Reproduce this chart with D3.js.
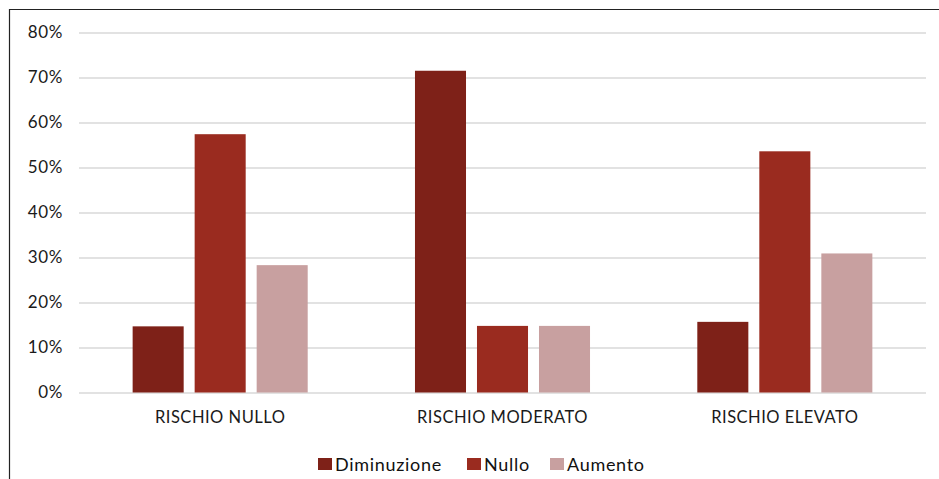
<!DOCTYPE html>
<html>
<head>
<meta charset="utf-8">
<script src="https://cdn.jsdelivr.net/npm/d3@7"></script>
<style>
  body { margin: 0; background: #fff; }
  svg { display: block; font-family: Lato, "Open Sans", sans-serif; }
</style>
</head>
<body>
<div id="content"></div>
<script>
// Data.
var categories = ['RISCHIO NULLO', 'RISCHIO MODERATO', 'RISCHIO ELEVATO'];
var seriesNames = ['Diminuzione', 'Nullo', 'Aumento'];
var diminuzione = [14.7, 71.5, 15.7];
var nullo = [57.4, 14.8, 53.6];
var aumento = [28.3, 14.8, 30.9];
var yTicks = [0, 10, 20, 30, 40, 50, 60, 70, 80];
var colors = ['#7e2118', '#9a2b1f', '#c8a0a0'];

var seriesValues = [diminuzione, nullo, aumento];
var data = categories.map(function(c, i) {
  return {
    category: c,
    values: seriesNames.map(function(s, j) { return {key: s, value: seriesValues[j][i]}; })
  };
});

var W = 939, H = 479;
var svg = d3.select('#content').append('svg').attr('width', W).attr('height', H);

// Frame (only top and left edges visible).
svg.append('path')
    .attr('d', 'M9.5,' + H + 'V9.5H' + W)
    .attr('fill', 'none')
    .attr('stroke', '#222')
    .attr('stroke-width', 1.2);

var plot = {left: 79, right: 926, top: 32.5, bottom: 392.5};

var y = d3.scaleLinear().domain([0, 80]).range([plot.bottom, plot.top]);
var x0 = d3.scaleBand().domain(categories).range([plot.left, plot.right]).padding(0);
var x1 = d3.scaleBand().domain(seriesNames).range([0, x0.bandwidth()])
    .paddingInner(0.177).paddingOuter(0.865);
var color = d3.scaleOrdinal().domain(seriesNames).range(colors);

// Gridlines and y labels.
var yAxis = d3.axisLeft(y).tickValues(yTicks).tickSize(-(plot.right - plot.left))
    .tickFormat(function(d) { return d + '%'; }).tickPadding(16);
var ga = svg.append('g').attr('transform', 'translate(' + plot.left + ',0)').call(yAxis);
ga.select('.domain').remove();
ga.selectAll('.tick line').attr('stroke', '#d9d9d9').attr('stroke-width', 1.5);
ga.selectAll('.tick text').attr('fill', '#1a1a1a').attr('font-size', 17)
    .attr('letter-spacing', '0.6px').attr('font-family', 'Lato, sans-serif');

// Bars.
var groups = svg.selectAll('g.group').data(data).enter().append('g')
    .attr('class', 'group')
    .attr('transform', function(d) { return 'translate(' + x0(d.category) + ',0)'; });

groups.selectAll('rect').data(function(d) { return d.values; }).enter().append('rect')
    .attr('x', function(d) { return x1(d.key); })
    .attr('y', function(d) { return y(d.value); })
    .attr('width', x1.bandwidth())
    .attr('height', function(d) { return y(0) - y(d.value); })
    .attr('fill', function(d) { return color(d.key); });

// Category labels.
var xAxis = d3.axisBottom(x0).tickSize(0).tickPadding(19);
var gx = svg.append('g').attr('transform', 'translate(0,' + plot.bottom + ')').call(xAxis);
gx.select('.domain').remove();
gx.selectAll('.tick text').attr('fill', '#1a1a1a').attr('font-size', 16.5)
    .attr('letter-spacing', '0.5px').attr('font-family', 'Lato, sans-serif');

// Legend.
var legendX = [318, 467, 550];
var legend = svg.selectAll('g.legend').data(seriesNames).enter().append('g')
    .attr('class', 'legend')
    .attr('transform', function(d, i) { return 'translate(' + legendX[i] + ',458)'; });
legend.append('rect').attr('width', 14).attr('height', 12).attr('fill', function(d) { return color(d); });
legend.append('text').attr('x', 17).attr('y', 12.5)
    .attr('font-size', 18).attr('letter-spacing', '0.7px')
    .attr('fill', '#111').text(function(d) { return d; });
</script>
</body>
</html>
